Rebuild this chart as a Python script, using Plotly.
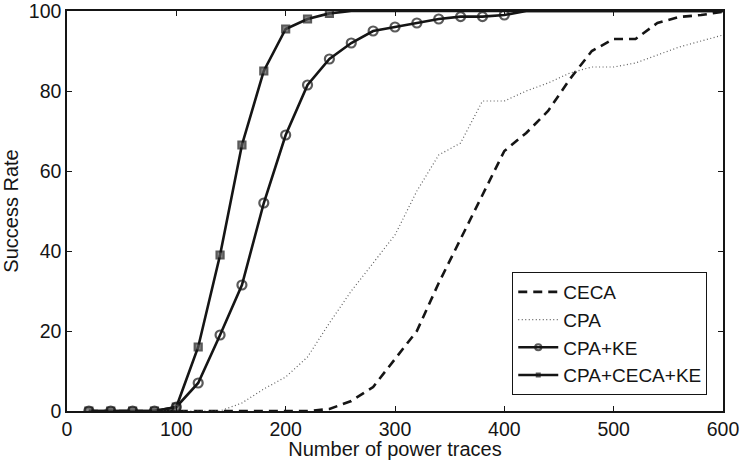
import plotly.graph_objects as go

x = list(range(20, 620, 20))

ceca = [0, 0, 0, 0, 0, 0, 0, 0, 0, 0, 0, 0.5, 2.5, 6, 13, 20, 32, 43, 54, 65,
        69.5, 75, 83, 90, 93, 93, 97, 98.5, 99, 99.8]
cpa = [0, 0, 0, 0, 0, 0, 0, 2, 5.5, 8.5, 13.5, 22, 30, 37, 44, 55, 64, 67, 77.5, 77.5,
       80, 82, 84.5, 86, 86, 87, 89, 91, 92.5, 94]
cpa_ke = [0, 0, 0, 0, 1, 7, 19, 31.5, 52, 69, 81.5, 88, 92, 95, 96, 97, 98, 98.6, 98.6, 99,
          100, 100, 100, 100, 100, 100, 100, 100, 100, 100]
cpa_ceca_ke = [0, 0, 0, 0, 1, 16, 39, 66.5, 85, 95.5, 98, 99.4, 100, 100, 100, 100, 100, 100, 100, 100,
               100, 100, 100, 100, 100, 100, 100, 100, 100, 100]

names = ["CECA", "CPA", "CPA+KE", "CPA+CECA+KE"]
xticks = [0, 100, 200, 300, 400, 500, 600]
yticks = [0, 20, 40, 60, 80, 100]

FONT = "Liberation Sans, Arial, sans-serif"
INK = "#151515"

fig = go.Figure()
fig.add_trace(go.Scatter(x=x, y=ceca, name=names[0], mode="lines",
                         line=dict(color=INK, width=2.6, dash="9px,6px")))
fig.add_trace(go.Scatter(x=x, y=cpa, name=names[1], mode="lines",
                         line=dict(color="#5e5e5e", width=1.2, dash="1px,2.5px")))
fig.add_trace(go.Scatter(x=x, y=cpa_ke, name=names[2], mode="lines+markers",
                         line=dict(color=INK, width=2.6),
                         marker=dict(symbol="circle", color="rgba(0,0,0,0)",
                                     size=[9 if v < 100 else 0 for v in cpa_ke],
                                     line=dict(width=2.2, color=INK))))
fig.add_trace(go.Scatter(x=x, y=cpa_ceca_ke, name=names[3], mode="lines+markers",
                         line=dict(color=INK, width=2.6),
                         marker=dict(symbol="square", color="#555555",
                                     size=[7 if v < 100 else 0 for v in cpa_ceca_ke],
                                     line=dict(width=2.2, color=INK))))

axis_common = dict(showline=True, linecolor=INK, linewidth=1.5, mirror="ticks",
                   ticks="inside", ticklen=5, tickwidth=1, tickcolor=INK,
                   showgrid=False, zeroline=False, automargin=False,
                   ticklabeloverflow="allow",
                   tickfont=dict(family=FONT, size=19.5, color=INK))

fig.update_xaxes(range=[0, 600], tickvals=xticks, ticktext=[str(v) for v in xticks],
                 title=dict(text="Number of power traces", standoff=0,
                            font=dict(family=FONT, size=20, color=INK)),
                 **axis_common)
fig.update_yaxes(range=[0, 100], tickvals=yticks, ticktext=[str(v) for v in yticks],
                 title=dict(text="Success Rate", standoff=8,
                            font=dict(family=FONT, size=20, color=INK)),
                 **axis_common)

fig.update_layout(
    width=742, height=460,
    margin=dict(l=67, r=19, t=11, b=49),
    paper_bgcolor="white", plot_bgcolor="white",
    font=dict(family=FONT, size=20, color=INK),
    legend=dict(x=0.976, y=0.04, xanchor="right", yanchor="bottom",
                bgcolor="white", bordercolor=INK, borderwidth=1,
                font=dict(family=FONT, size=19, color=INK),
                tracegroupgap=0, itemwidth=40),
    showlegend=True,
)

fig.write_html("out.html")
